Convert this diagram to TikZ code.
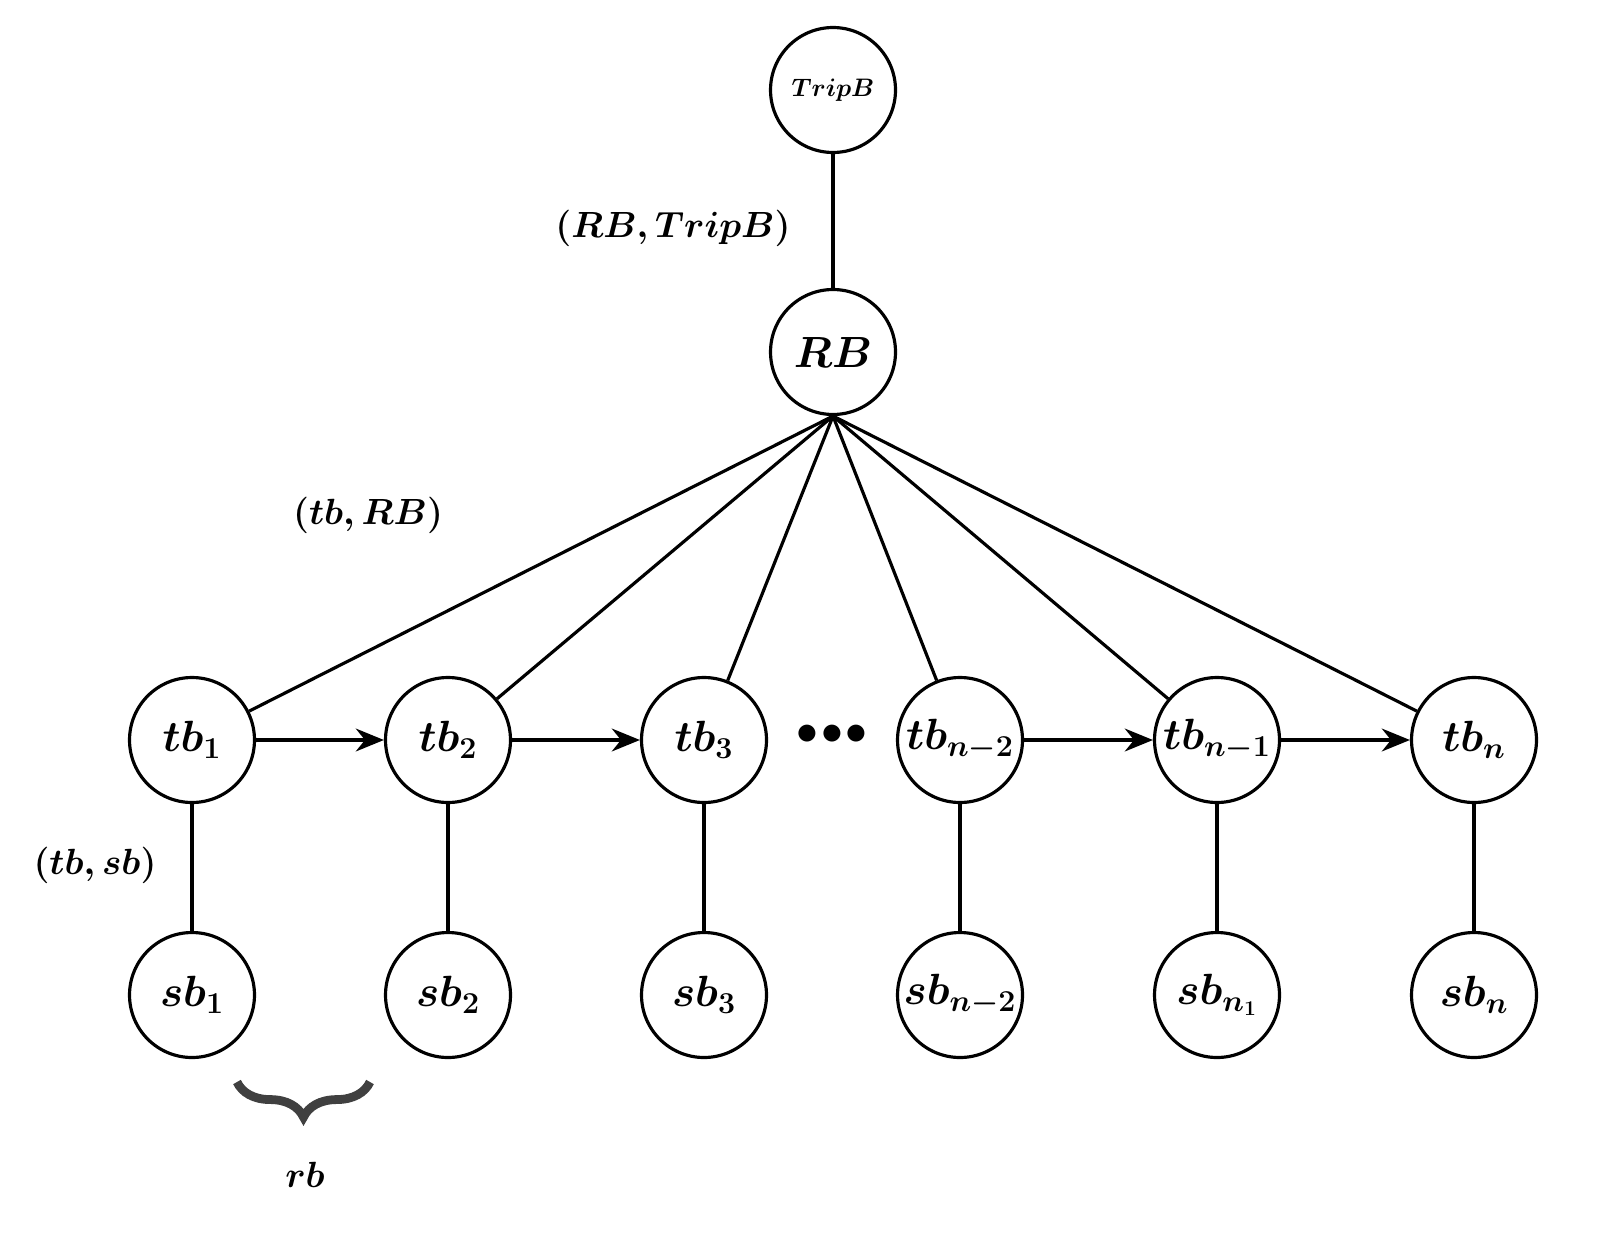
\documentclass[tikz,border=0pt]{standalone}
\usetikzlibrary{decorations.pathreplacing,arrows.meta}

\begin{document}
\begin{tikzpicture}[x=0.02cm,y=-0.02cm,
    blk/.style={circle, draw, line width=1.8pt, minimum size=2.5cm, inner sep=0pt, font=\fontsize{24}{28}\selectfont\boldmath},
    lbl/.style={font=\fontsize{22}{26}\selectfont\boldmath},
    edge/.style={line width=1.8pt},
    nxt/.style={line width=1.8pt, -{Stealth[length=16pt,width=13pt]}}]

    \node[blk, font=\fontsize{15}{18}\selectfont\boldmath] (TripB) at (833,90) {$TripB$};
    \node[blk] (RB) at (833,352) {$RB$};

    \node[blk] (tb1) at (192,740) {$tb_1$};
    \node[blk] (tb2) at (448,740) {$tb_2$};
    \node[blk] (tb3) at (704,740) {$tb_3$};
    \node[blk] (tbn2) at (960,740) {$tb_{n-2}$};
    \node[blk] (tbn1) at (1217,740) {$tb_{n-1}$};
    \node[blk] (tbn) at (1474,740) {$tb_n$};

    \node[blk] (sb1) at (192,995) {$sb_1$};
    \node[blk] (sb2) at (448,995) {$sb_2$};
    \node[blk] (sb3) at (704,995) {$sb_3$};
    \node[blk] (sbn2) at (960,995) {$sb_{n-2}$};
    \node[blk] (sbn1) at (1217,995) {$sb_{n_1}$};
    \node[blk] (sbn) at (1474,995) {$sb_n$};

    \node[font=\fontsize{30}{30}\selectfont] (dots) at (832,735) {$\bullet\!\bullet\!\bullet$};

    \draw[edge] (TripB) -- (RB);
    \foreach \t in {tb1,tb2,tb3,tbn2,tbn1,tbn}
        \draw[edge] (RB.south) -- (\t);

    \foreach \t/\s in {tb1/sb1,tb2/sb2,tb3/sb3,tbn2/sbn2,tbn1/sbn1,tbn/sbn}
        \draw[edge] (\t) -- (\s);

    \draw[nxt] (tb1) -- (tb2);
    \draw[nxt] (tb2) -- (tb3);
    \draw[nxt] (tbn2) -- (tbn1);
    \draw[nxt] (tbn1) -- (tbn);

    \node[lbl] (lRB) at (673,228) {$(RB,TripB)$};
    \node[lbl] (ltb) at (368,515) {$(tb,RB)$};
    \node[lbl] (lsb) at (95,865) {$(tb,sb)$};

    \coordinate (bl) at (237,1082);
    \coordinate (br) at (370,1082);
    \draw[line width=5pt, black!75, decorate, decoration={brace, amplitude=20pt}] (br) -- (bl);
    \node[lbl] (rb) at (305,1175) {$rb$};

    \pgfresetboundingbox
    \useasboundingbox (0,0) rectangle (1598,1237);
\end{tikzpicture}
\end{document}
